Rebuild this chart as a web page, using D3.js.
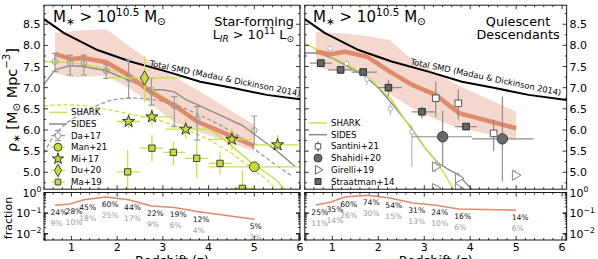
<!DOCTYPE html>
<html><head><meta charset="utf-8">
<script src="https://cdn.jsdelivr.net/npm/d3@7"></script>
<style>body{margin:0;background:#fff}svg{display:block;font-family:"DejaVu Sans",sans-serif}</style>
</head><body><svg id="c" width="598" height="259"></svg>
<script>
// ---------------- data ----------------
const zBins=[0.64,0.97,1.27,1.76,2.25,2.75,3.25,3.75,5.0];
const smdZ=[0.4,0.84,1.57,2.29,3.09,3.82,4.54,5.27,6.1];
const smdVal=[8.62,8.29,7.89,7.62,7.38,7.14,6.99,6.83,6.71];
// star-forming (left)
const sfMed=[7.8,7.68,7.7,7.6,7.3,6.88,6.58,6.2,5.62];
const sfHi=[8.3,8.33,8.36,8.38,8.0,7.6,7.25,6.95,6.12];
const sfLo=[7.35,7.25,7.25,7.28,7.0,6.6,6.18,5.97,5.5];
const sharkLZ=[0.4,0.9,1.3,1.77,2.3,2.75,3.25,3.75,4.25,4.75,5.0,5.25,5.5,5.7];
const sharkLV=[7.62,7.6,7.55,7.45,7.25,6.97,6.6,6.24,5.85,5.4,5.17,5.0,4.8,4.55];
const sharkDZ=[0.4,0.8,1.2,1.6,2.0,2.5,3.0,3.5,4.0,4.5,5.0,5.25,5.5];
const sharkDV=[6.57,6.6,6.58,6.52,6.44,6.33,6.2,6.02,5.78,5.45,5.05,4.85,4.58];
const sidesLZ=[0.4,0.64,0.97,1.27,1.76,2.25,2.75,3.0,3.25,3.5,3.75,4.25,4.75,5.0,5.5,5.9];
const sidesLV=[7.08,7.42,7.52,7.5,7.4,7.18,6.95,6.95,6.9,6.72,6.6,6.35,6.1,5.9,5.5,5.13];
const sidesDZ=[0.4,0.6,0.8,1.0,1.2,1.4,1.6,1.8,2.0,2.3,2.6,2.9,3.25,3.5,3.75,4.25,4.75,5.0,5.5,5.8];
const sidesDV=[5.45,5.85,6.08,6.25,6.38,6.5,6.6,6.68,6.73,6.76,6.74,6.7,6.62,6.5,6.38,6.12,5.8,5.55,5.15,4.93];
const daVal=[7.62,7.58,7.58,7.4,7.21,6.95,6.57,6.26,5.99];
const daHi=[7.81,7.77,7.77,7.54,7.65,7.22,6.79,6.55,6.33];
const daLo=[7.38,7.3,7.3,7.22,6.75,6.59,6.08,5.76,5.66];
const miZ=[2.25,2.76,3.5,4.51,5.51], miV=[6.2,6.31,6.02,5.78,5.65];
const miXlo=[1.99,2.5,3.05,4.0,5.0], miXhi=[2.5,3.23,4.0,5.0,5.96];
const miYlo=[6.04,6.12,5.8,5.53,5.45], miYhi=[6.4,6.51,6.28,6.04,5.88];
const maZ=[2.23,2.76,3.23,3.74,4.25,4.74], maV=[5.01,5.57,5.47,5.33,5.21,4.62];
const maXlo=[1.99,2.5,3.01,3.49,4.0,4.47], maXhi=[2.5,3.01,3.49,4.0,4.51,5.02];
const maYlo=[4.4,5.25,5.17,4.86,4.94,4.4], maYhi=[5.53,5.88,5.72,5.76,5.49,5.05];
const manZ=[5.0], manV=[5.13], manXlo=[4.0], manXhi=[6.0], manYlo=[5.01], manYhi=[5.25];
const duZ=[2.6], duV=[7.23], duXlo=[1.8], duXhi=[3.4], duYlo=[6.65], duYhi=[7.75];
// quiescent (right)
const qMed=[7.85,7.79,7.85,7.73,7.38,7.06,6.83,6.4,6.04];
const qHi=[8.32,8.3,8.28,8.22,8.13,7.65,7.35,7.05,6.43];
const qLo=[7.5,7.4,7.42,7.28,6.85,6.5,6.25,6.05,5.76];
const sharkRZ=[0.4,0.9,1.35,1.86,2.29,2.7,3.0,3.24,3.45,3.65];
const sharkRV=[8.05,7.77,7.54,7.18,6.71,6.05,5.6,5.28,4.95,4.55];
const sidesRZ=[0.4,0.7,1.0,1.3,1.7,2.0,2.3,2.7,3.0,3.3,3.55,3.75,3.9,4.05];
const sidesRV=[7.82,7.82,7.7,7.52,7.28,7.0,6.62,6.08,5.6,5.22,5.05,4.94,4.75,4.58];
const stZ=[0.75,1.18,1.67,2.22,2.95,3.91], stV=[7.58,7.42,7.37,7.0,6.43,6.08];
const stXlo=[0.51,0.91,1.42,1.97,2.73,3.67], stXhi=[0.99,1.42,1.97,2.51,3.24,4.14];
const stYlo=[7.52,7.36,7.31,6.79,6.28,6.02], stYhi=[7.64,7.48,7.43,7.18,6.55,6.14];
const shZ=[3.4,4.7], shV=[5.84,5.79], shXlo=[2.73,4.04], shXhi=[4.04,5.38], shYlo=[5.13,4.78], shYhi=[6.45,6.79];
const saZ=[3.25,3.74,4.51], saV=[6.75,6.63,5.92], saYlo=[6.3,6.25,5.5], saYhi=[7.14,6.95,6.25];
const smZ=[0.95,1.31,1.75,2.26,2.73], smV=[7.93,7.57,7.2,6.5,5.95], smYlo=[7.88,7.5,7.06,6.35,5.13], smYhi=[7.98,7.64,7.3,6.63,6.1];
const giZ=[3.24,3.24,3.74,3.74,4.98], giV=[5.13,4.62,4.86,4.62,4.93], giYlo=[5.0,4.55,4.78,4.55,4.83], giYhi=[5.25,4.72,5.0,4.7,5.05];
// fractions (%)
const sfFrac=[24,28,45,60,44,22,19,12,5];
const sfFracGrey=[9,10,18,25,17,9,6,4,2];
const qFrac=[25,35,60,74,54,31,24,16,14];
const qFracGrey=[11,14,26,30,15,13,10,6,6];
const xTickVals=[1,2,3,4,5,6];
const yTickVals=[5.0,5.5,6.0,6.5,7.0,7.5,8.0,8.5];

// ---------------- setup ----------------
const svg=d3.select("#c");
const GREEN="#c6dc3a", GREEN_ERR="#cbe04e", ORANGE="#df8b6b", BAND="#f5d8cd", GREY="#8c8c8c";
const yTop=5.2, yBot=189.2, fTop=192.5, fBot=240;
const y=d3.scaleLinear([4.6,8.95],[yBot,yTop]);
const yF=d3.scaleLog([0.005,1],[fBot,fTop]);
const panels=[
  {id:"L", x:d3.scaleLinear([0.4,6.0],[44,300])},
  {id:"R", x:d3.scaleLinear([0.4,6.1],[304.8,566.7])}
];
const defs=svg.append("defs");
panels.forEach(p=>{
  const [a,b]=p.x.range();
  defs.append("clipPath").attr("id","clip"+p.id).append("rect").attr("x",a).attr("y",yTop).attr("width",b-a).attr("height",yBot-yTop);
  defs.append("clipPath").attr("id","clipF"+p.id).append("rect").attr("x",a).attr("y",fTop).attr("width",b-a).attr("height",fBot-fTop);
  p.g=svg.append("g").attr("clip-path",`url(#clip${p.id})`);
  p.gf=svg.append("g").attr("clip-path",`url(#clipF${p.id})`);
});
const zip=(a,b)=>a.map((v,i)=>[v,b[i]]);

function line(p,zs,vs,color,w,dash){
  p.g.append("path").datum(zip(zs,vs)).attr("fill","none").attr("stroke",color).attr("stroke-width",w)
   .attr("stroke-dasharray",dash||null).attr("stroke-linejoin","round")
   .attr("d",d3.line().x(d=>p.x(d[0])).y(d=>y(d[1])));
}
function band(p,zs,lo,hi){
  p.g.append("path").datum(zs.map((z,i)=>[z,lo[i],hi[i]])).attr("fill",BAND)
   .attr("d",d3.area().x(d=>p.x(d[0])).y0(d=>y(d[1])).y1(d=>y(d[2])));
}
function errs(p,zs,vs,opt){
  const g=p.g.append("g").attr("stroke",opt.color).attr("stroke-width",opt.w||1.3);
  zs.forEach((z,i)=>{
    const X=p.x(z), Y=y(vs[i]);
    if(opt.xlo) g.append("line").attr("x1",p.x(opt.xlo[i])).attr("x2",p.x(opt.xhi[i])).attr("y1",Y).attr("y2",Y);
    if(opt.ylo){
      g.append("line").attr("x1",X).attr("x2",X).attr("y1",y(opt.ylo[i])).attr("y2",y(opt.yhi[i]));
      if(opt.cap){[opt.ylo[i],opt.yhi[i]].forEach(v=>g.append("line").attr("x1",X-opt.cap).attr("x2",X+opt.cap).attr("y1",y(v)).attr("y2",y(v)));}
    }
  });
}
function marks(g,pts,opt){
  pts.forEach(([X,Y])=>{
    g.append("path").attr("transform",`translate(${X},${Y}) rotate(${opt.rot||0})`)
     .attr("d",d3.symbol().type(opt.type).size(opt.size)())
     .attr("fill",opt.fill).attr("stroke",opt.stroke).attr("stroke-width",opt.sw||0.9);
  });
}
function pmarks(p,zs,vs,opt){ marks(p.g,zs.map((z,i)=>[p.x(z),y(vs[i])]),opt); }

function mathText(x,yy,parts,size,anchor,rot){
  const t=svg.append("text").attr("x",x).attr("y",yy).attr("font-size",size).attr("text-anchor",anchor||"start");
  if(rot) t.attr("transform",`rotate(${rot},${x},${yy})`);
  let cur=0;
  parts.forEach(pp=>{
    const ts=t.append("tspan").text(pp.t);
    const target=pp.sup?-0.42*size:pp.sub?0.22*size:0;
    if(pp.sup||pp.sub) ts.attr("font-size",size*0.7);
    if(pp.it) ts.attr("font-style","italic");
    ts.attr("dy",target-cur); cur=target;
  });
  return t;
}

// ---------------- left panel ----------------
const L=panels[0], R=panels[1];
band(L,zBins,sfLo,sfHi);
line(L,sidesDZ,sidesDV,"#999",1.3,"4,2.5");
line(L,sidesLZ,sidesLV,GREY,1.4);
line(L,sharkDZ,sharkDV,GREEN_ERR,1.4,"4,2.5");
line(L,sharkLZ,sharkLV,GREEN_ERR,1.5);
line(L,smdZ,smdVal,"#000",2);
line(L,zBins,sfMed,ORANGE,4.5);
errs(L,zBins,daVal,{color:"#999",ylo:daLo,yhi:daHi,cap:3,w:1.2});
pmarks(L,zBins,daVal,{type:d3.symbolCircle,size:26,fill:"none",stroke:"#999",sw:1});
errs(L,maZ,maV,{color:GREEN_ERR,xlo:maXlo,xhi:maXhi,ylo:maYlo,yhi:maYhi});
errs(L,miZ,miV,{color:GREEN_ERR,xlo:miXlo,xhi:miXhi,ylo:miYlo,yhi:miYhi});
errs(L,manZ,manV,{color:GREEN_ERR,xlo:manXlo,xhi:manXhi,ylo:manYlo,yhi:manYhi});
errs(L,duZ,duV,{color:GREEN_ERR,xlo:duXlo,xhi:duXhi,ylo:duYlo,yhi:duYhi});
pmarks(L,maZ,maV,{type:d3.symbolSquare,size:40,fill:GREEN,stroke:"#333"});
pmarks(L,miZ,miV,{type:d3.symbolStar,size:45,fill:GREEN,stroke:"#222"});
pmarks(L,manZ,manV,{type:d3.symbolCircle,size:75,fill:GREEN,stroke:"#333"});
pmarks(L,duZ,duV,{type:d3.symbolDiamond,size:60,fill:GREEN,stroke:"#333"});

// ---------------- right panel ----------------
band(R,zBins,qLo,qHi);
line(R,sidesRZ,sidesRV,GREY,1.4);
line(R,sharkRZ,sharkRV,GREEN_ERR,1.5);
line(R,smdZ,smdVal,"#000",2);
line(R,zBins,qMed,ORANGE,4.5);
errs(R,smZ,smV,{color:"#aaa",ylo:smYlo,yhi:smYhi,w:1});
pmarks(R,smZ,smV,{type:d3.symbolCircle,size:16,fill:"#fff",stroke:"#aaa",sw:0.9});
errs(R,stZ,stV,{color:GREY,xlo:stXlo,xhi:stXhi,ylo:stYlo,yhi:stYhi,w:1.2});
errs(R,shZ,shV,{color:GREY,xlo:shXlo,xhi:shXhi,ylo:shYlo,yhi:shYhi,w:1.2});
errs(R,saZ,saV,{color:GREY,ylo:saYlo,yhi:saYhi,w:1.2});
errs(R,giZ,giV,{color:"#999",ylo:giYlo,yhi:giYhi,w:1});
pmarks(R,stZ,stV,{type:d3.symbolSquare,size:44,fill:"#666",stroke:"#222"});
pmarks(R,shZ,shV,{type:d3.symbolCircle,size:85,fill:"#6a6a6a",stroke:"#333"});
pmarks(R,saZ,saV,{type:d3.symbolSquare,size:44,fill:"#fff",stroke:"#444"});
pmarks(R,giZ,giV,{type:d3.symbolTriangle,size:42,fill:"#fff",stroke:"#777",rot:90});

// ---------------- fraction panels ----------------
[[L,sfFrac,sfFracGrey],[R,qFrac,qFracGrey]].forEach(([p,fr,frg])=>{
  p.gf.append("path").datum(zip(zBins,fr)).attr("fill","none").attr("stroke",ORANGE).attr("stroke-width",1.5)
    .attr("d",d3.line().x(d=>p.x(d[0])).y(d=>yF(d[1]/100)));
  zBins.forEach((z,i)=>{
    const X=p.x(z)-4.5, Y=yF(fr[i]/100)+10;
    svg.append("text").attr("x",X).attr("y",Y).attr("font-size",7.6).attr("fill","#111").text(fr[i]+"%");
    svg.append("text").attr("x",X).attr("y",Y+11).attr("font-size",7.6).attr("fill","#999").text(frg[i]+"%");
  });
});

// ---------------- frames & ticks ----------------
const tk=svg.append("g").attr("stroke","#000").attr("stroke-width",0.8);
panels.forEach(p=>{
  const [a,b]=p.x.range();
  [[yTop,yBot],[fTop,fBot]].forEach(([t,bt])=>{
    svg.append("rect").attr("x",a).attr("y",t).attr("width",b-a).attr("height",bt-t).attr("fill","none").attr("stroke","#000").attr("stroke-width",0.9);
    d3.range(0.4,p.x.domain()[1]+0.001,0.2).forEach(v=>{
      const maj=Math.abs(v-Math.round(v))<0.01, X=p.x(v), len=maj?4:2;
      tk.append("line").attr("x1",X).attr("x2",X).attr("y1",bt).attr("y2",bt-len);
      tk.append("line").attr("x1",X).attr("x2",X).attr("y1",t).attr("y2",t+len);
    });
  });
  d3.range(4.75,8.95,0.25).forEach(v=>{
    const maj=Math.abs(v*2-Math.round(v*2))<0.01, Y=y(v), len=maj?4:2;
    tk.append("line").attr("x1",a).attr("x2",a+len).attr("y1",Y).attr("y2",Y);
    tk.append("line").attr("x1",b).attr("x2",b-len).attr("y1",Y).attr("y2",Y);
  });
  [0.001,0.01,0.1].forEach(d0=>{
    d3.range(1,11).forEach(k=>{
      const v=d0*k; if(v<0.005||v>1) return;
      const Y=yF(v), len=(k===1||k===10)?4:2;
      tk.append("line").attr("x1",a).attr("x2",a+len).attr("y1",Y).attr("y2",Y);
      tk.append("line").attr("x1",b).attr("x2",b-len).attr("y1",Y).attr("y2",Y);
    });
  });
  xTickVals.forEach(v=>svg.append("text").attr("x",p.x(v)).attr("y",251).attr("font-size",11).attr("text-anchor","middle").text(v));
  svg.append("text").attr("x",(a+b)/2).attr("y",265).attr("font-size",13).attr("text-anchor","middle").text("Redshift (z)");
});
yTickVals.forEach(v=>{
  svg.append("text").attr("x",40.5).attr("y",y(v)+4).attr("font-size",11).attr("text-anchor","end").text(v.toFixed(1));
  svg.append("text").attr("x",569.5).attr("y",y(v)+4).attr("font-size",11).attr("text-anchor","start").text(v.toFixed(1));
});
[[1,"0"],[0.1,"\u22121"],[0.01,"\u22122"]].forEach(([v,e])=>{
  mathText(41.5,yF(v)+4,[{t:"10"},{t:e,sup:1}],11,"end");
  mathText(569.5,yF(v)+4,[{t:"10"},{t:e,sup:1}],11,"start");
});
mathText(16.5,100,[{t:"\u03c1"},{t:"\u2217",sub:1},{t:" [M"},{t:"\u2299",sub:1},{t:" Mpc"},{t:"\u22123",sup:1},{t:"]"}],14.5,"middle",-90);
svg.append("text").attr("x",12).attr("y",218).attr("font-size",11).attr("text-anchor","middle").attr("transform","rotate(-90,12,218)").text("fraction");

// ---------------- panel texts ----------------
const titleParts=[{t:"M"},{t:"\u2217",sub:1},{t:" > 10"},{t:"10.5",sup:1},{t:" M"},{t:"\u2299",sub:1}];
mathText(53,22,titleParts,15,"start");
mathText(313,22,titleParts,15,"start");
svg.append("text").attr("x",294).attr("y",25.5).attr("font-size",12.8).attr("text-anchor","end").text("Star-forming");
mathText(294,39,[{t:"L"},{t:"IR",sub:1,it:1},{t:" > 10"},{t:"11",sup:1},{t:" L"},{t:"\u2299",sub:1}],12.8,"end");
svg.append("text").attr("x",518).attr("y",25.5).attr("font-size",12.8).attr("text-anchor","middle").text("Quiescent");
svg.append("text").attr("x",518).attr("y",39).attr("font-size",12.8).attr("text-anchor","middle").text("Descendants");
[[L,4.36,7.21,11.4],[R,4.34,7.24,11.8]].forEach(([p,z,v,ang])=>{
  const X=p.x(z), Y=y(v);
  svg.append("text").attr("x",X).attr("y",Y).attr("font-size",8.3).attr("text-anchor","middle").attr("dominant-baseline","middle")
   .attr("transform",`rotate(${ang},${X},${Y})`).text("Total SMD (Madau & Dickinson 2014)");
});

// ---------------- legends ----------------
function legend(x0,y0,dy,items){
  items.forEach((it,i)=>{
    const Y=y0+i*dy, X=x0+9;
    const g=svg.append("g");
    if(it.line) g.append("line").attr("x1",x0).attr("x2",x0+18).attr("y1",Y).attr("y2",Y).attr("stroke",it.line).attr("stroke-width",1.5);
    if(it.hbar) g.append("line").attr("x1",X-7).attr("x2",X+7).attr("y1",Y).attr("y2",Y).attr("stroke",it.hbar).attr("stroke-width",1.2);
    if(it.vbar){g.append("line").attr("x1",X).attr("x2",X).attr("y1",Y-5).attr("y2",Y+5).attr("stroke",it.vbar).attr("stroke-width",1.2);
      if(it.cap)[Y-5,Y+5].forEach(yy=>g.append("line").attr("x1",X-3).attr("x2",X+3).attr("y1",yy).attr("y2",yy).attr("stroke",it.vbar).attr("stroke-width",1.2));}
    if(it.sym) marks(g,[[X,Y]],it.sym);
    svg.append("text").attr("x",x0+22).attr("y",Y+3).attr("font-size",8.6).text(it.label);
  });
}
legend(49,112.4,11.6,[
  {label:"SHARK",line:GREEN_ERR},{label:"SIDES",line:GREY},
  {label:"Da+17",hbar:"#999",vbar:"#999",cap:1,sym:{type:d3.symbolCircle,size:26,fill:"#fff",stroke:"#999",sw:1}},
  {label:"Man+21",hbar:GREEN_ERR,vbar:GREEN_ERR,sym:{type:d3.symbolCircle,size:50,fill:GREEN,stroke:"#333"}},
  {label:"Mi+17",vbar:GREEN_ERR,sym:{type:d3.symbolStar,size:40,fill:GREEN,stroke:"#222"}},
  {label:"Du+20",hbar:GREEN_ERR,vbar:GREEN_ERR,sym:{type:d3.symbolDiamond,size:45,fill:GREEN,stroke:"#333"}},
  {label:"Ma+19",hbar:GREEN_ERR,vbar:GREEN_ERR,sym:{type:d3.symbolSquare,size:32,fill:GREEN,stroke:"#333"}}
]);
legend(309,123,11.7,[
  {label:"SHARK",line:GREEN_ERR},{label:"SIDES",line:GREY},
  {label:"Santini+21",vbar:"#444",sym:{type:d3.symbolSquare,size:30,fill:"#fff",stroke:"#444"}},
  {label:"Shahidi+20",sym:{type:d3.symbolCircle,size:50,fill:"#6a6a6a",stroke:"#333"}},
  {label:"Girelli+19",sym:{type:d3.symbolTriangle,size:32,fill:"#fff",stroke:"#555",rot:90}},
  {label:"Straatman+14",sym:{type:d3.symbolSquare,size:36,fill:"#666",stroke:"#222"}}
]);
</script></body></html>
